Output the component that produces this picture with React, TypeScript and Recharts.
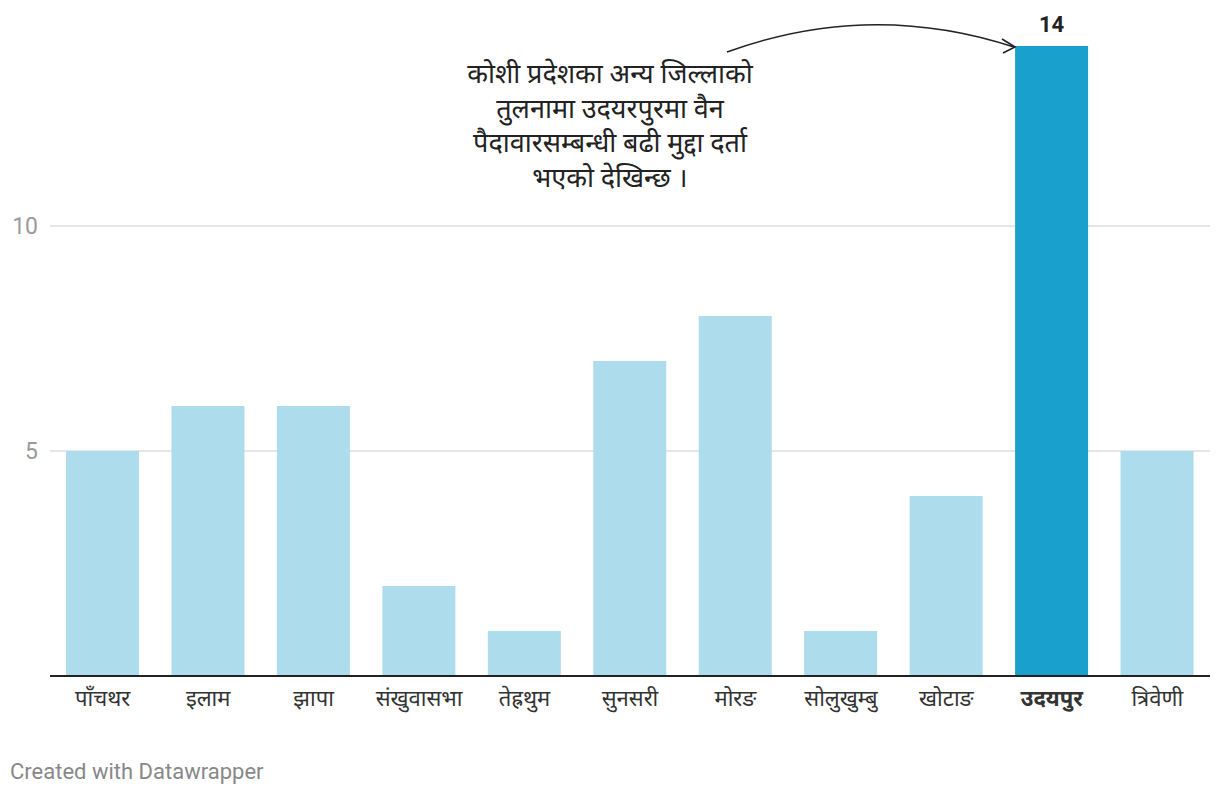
import { BarChart, Bar, XAxis, YAxis, CartesianGrid, Cell, LabelList } from 'recharts';

// district names (Koshi province) and number of cases
const districts = ['पाँचथर', 'इलाम', 'झापा', 'संखुवासभा', 'तेह्रथुम', 'सुनसरी', 'मोरङ', 'सोलुखुम्बु', 'खोटाङ', 'उदयपुर', 'त्रिवेणी'];
const cases = [5, 6, 6, 2, 1, 7, 8, 1, 4, 14, 5];
const yTicks = [5, 10];
const highlight = 'उदयपुर';

const noteLines = [
  'कोशी प्रदेशका अन्य जिल्लाको',
  'तुलनामा उदयरपुरमा वैन',
  'पैदावारसम्बन्धी बढी मुद्दा दर्ता',
  'भएको देखिन्छ ।',
];

const data = districts.map((d, i) => ({ district: d, value: cases[i] }));

const FONT = 'Roboto, "Noto Sans", sans-serif';

function XTick(props: any) {
  const { x, y, payload } = props;
  const bold = payload.value === highlight;
  return (
    <text x={x} y={y} dy={17} textAnchor="middle" fill="#333" fontSize={22}
      fontWeight={bold ? 700 : 400} fontFamily={FONT}>
      {payload.value}
    </text>
  );
}

function TopLabel(props: any) {
  const { x, y, width, index, value } = props;
  if (districts[index] !== highlight) return null;
  return (
    <text x={x + width / 2} y={y - 14} textAnchor="middle" fill="#222" fontSize={22}
      fontWeight={700} fontFamily={FONT}>
      {value}
    </text>
  );
}

export default function App() {
  return (
    <div style={{ position: 'absolute', left: 0, top: 0, width: 1220, height: 796, background: '#fff', fontFamily: FONT }}>
      <BarChart width={1220} height={730} data={data}
        margin={{ top: 46, right: 10, bottom: 0, left: 0 }}>
        <CartesianGrid vertical={false} horizontalValues={yTicks} stroke="#e6e6e6" strokeWidth={2} />
        <XAxis dataKey="district" interval={0} tickLine={false} tickSize={0} tickMargin={13}
          axisLine={{ stroke: '#222', strokeWidth: 2 }} tick={<XTick />} height={54} />
        <YAxis domain={[0, 14]} ticks={yTicks} width={50} axisLine={false} tickLine={false}
          tickSize={0} tickMargin={12} tick={{ fill: '#9a9a9a', fontSize: 23, fontFamily: FONT }} />
        <Bar dataKey="value" barSize={73} isAnimationActive={false}>
          {data.map((d) => (
            <Cell key={d.district} fill={d.district === highlight ? '#1aa0cc' : '#addcec'} />
          ))}
          <LabelList dataKey="value" content={<TopLabel />} />
        </Bar>
      </BarChart>

      {/* annotation */}
      <div style={{ position: 'absolute', left: 360, top: 57, width: 500, textAlign: 'center',
        fontSize: 27, lineHeight: '34.5px', color: '#222' }}>
        {noteLines.map((l) => <div key={l}>{l}</div>)}
      </div>
      <svg width={1220} height={796} style={{ position: 'absolute', left: 0, top: 0, pointerEvents: 'none' }}>
        <path d="M727,52 Q870,0 1014,47" fill="none" stroke="#222" strokeWidth={1.6} />
        <path d="M1002,39 L1015,47 L1003,53" fill="none" stroke="#222" strokeWidth={1.6} />
      </svg>

      <div style={{ position: 'absolute', left: 10, top: 759, fontSize: 22, color: '#888' }}>
        Created with Datawrapper
      </div>
    </div>
  );
}
